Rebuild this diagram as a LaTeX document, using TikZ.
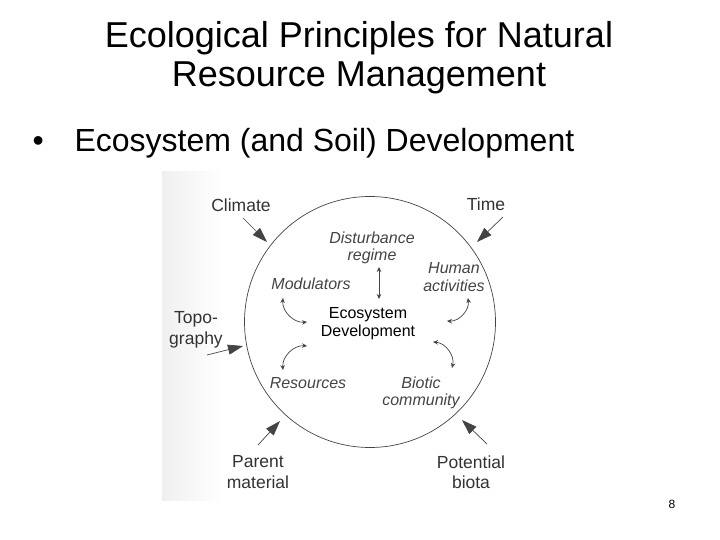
\documentclass[tikz,border=0pt]{standalone}
\usepackage{fontspec}
\setmainfont{Liberation Sans}
\usepackage{xcolor}
\usetikzlibrary{arrows.meta}

\definecolor{scan}{HTML}{444444}

\begin{document}
\begin{tikzpicture}[x=1pt, y=-1pt,
    lbl/.style={align=center, text=black!80, font=\fontsize{17.5}{20.5}\selectfont, inner sep=1pt},
    inlbl/.style={align=center, text=scan, font=\fontsize{16}{17.5}\selectfont\itshape, inner sep=1pt},
    feed/.style={draw=scan, line width=0.7pt, -{Triangle[length=15pt, width=10pt]}},
    link/.style={draw=scan, line width=0.7pt, {Stealth[length=5pt, width=4.5pt]}-{Stealth[length=5pt, width=4.5pt]}}]
    \useasboundingbox (0,0) rectangle (720,540);
    \fill[white] (0,0) rectangle (720,540);

    % scanned page edge
    \shade[left color=black!6, right color=white] (162,172) rectangle (222,500);

    % title and bullet
    \node (T1) at (359,38) {\fontsize{36}{40}\selectfont Ecological Principles for Natural};
    \node (T2) at (359,78) {\fontsize{36}{40}\selectfont Resource Management};
    \node (B) [anchor=west] at (29,143) {\fontsize{32}{38}\selectfont \makebox[42pt][l]{\textbullet}Ecosystem (and Soil) Development};

    % the system
    \node (eco) [circle, draw=scan, line width=0.7pt, minimum size=251pt] at (370,322) {};
    \node (dev) at (368,324) {\fontsize{16}{18}\selectfont\begin{tabular}{@{}c@{}}Ecosystem\\Development\end{tabular}};

    % outer factors
    \node (climate) [lbl] at (241,205) {Climate};
    \node (time) [lbl] at (486,204) {Time};
    \node (topo) [lbl] at (196,330) {Topo-\\graphy};
    \node (parent) [lbl] at (258,472) {Parent\\material};
    \node (biota) [lbl] at (471,472) {Potential\\biota};

    % inner factors
    \node (dist) [inlbl] at (372,248) {Disturbance\\regime};
    \node (mod) [inlbl] at (311,284) {Modulators};
    \node (human) [inlbl] at (454,277) {Human\\activities};
    \node (res) [inlbl] at (308,383) {Resources};
    \node (biotic) [inlbl] at (421,393) {Biotic\\community};

    % arrow ends on the circle
    \coordinate (climate-in) at (267,242);
    \coordinate (time-in) at (477,242);
    \coordinate (topo-in) at (243,346);
    \coordinate (parent-in) at (280,421);
    \coordinate (biota-in) at (462,420);

    \draw[feed] (243,218) -- (climate-in);
    \draw[feed] (503,217) -- (time-in);
    \draw[feed] (207,355) -- (topo-in);
    \draw[feed] (258,445) -- (parent-in);
    \draw[feed] (487,444) -- (biota-in);

    % inner links
    \coordinate (dist-a) at (379,267);
    \coordinate (dist-b) at (379,299);
    \coordinate (mod-a) at (283,298);
    \coordinate (mod-b) at (307,322);
    \coordinate (human-a) at (468,298);
    \coordinate (human-b) at (447,321);
    \coordinate (res-a) at (283,370);
    \coordinate (res-b) at (307,346);
    \coordinate (biotic-a) at (433,342);
    \coordinate (biotic-b) at (452,368);

    \draw[link] (dist-a) -- (dist-b);
    \draw[link] (mod-a) to[bend right=50] (mod-b);
    \draw[link] (human-a) to[bend left=50] (human-b);
    \draw[link] (res-a) to[bend left=50] (res-b);
    \draw[link] (biotic-a) to[bend left=50] (biotic-b);

    \node (page) at (672,504) {\fontsize{12}{14}\selectfont 8};
\end{tikzpicture}
\end{document}
